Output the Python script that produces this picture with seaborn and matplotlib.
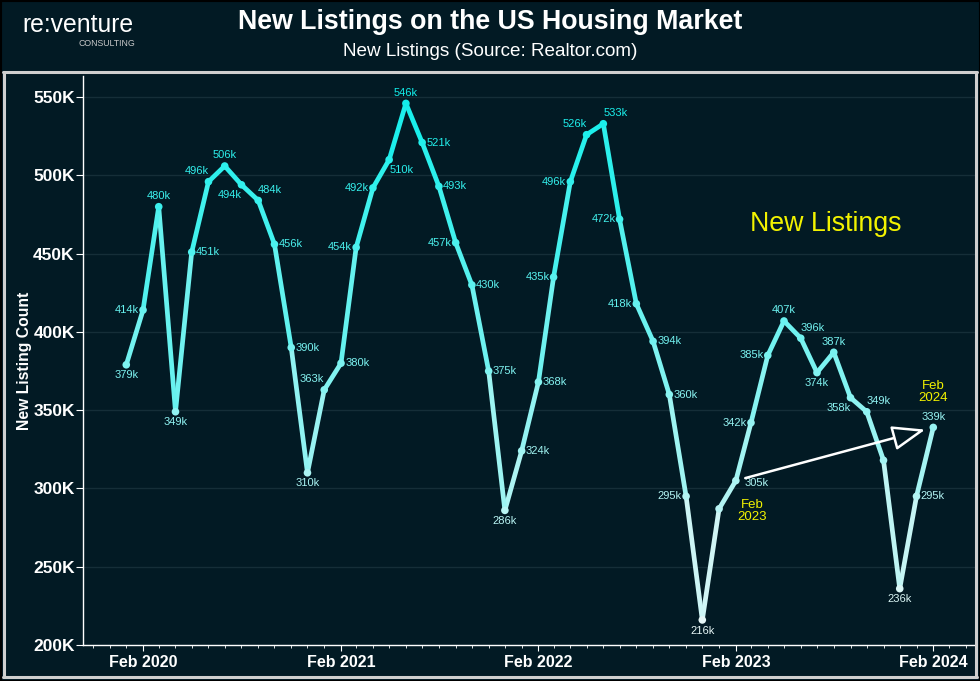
import matplotlib
matplotlib.use("Agg")
import matplotlib.pyplot as plt
import matplotlib.dates as mdates
from matplotlib.colors import LinearSegmentedColormap, Normalize
from matplotlib.ticker import FuncFormatter
from matplotlib.lines import Line2D
import seaborn as sns
import pandas as pd

# monthly new listings, Jan 2020 .. Feb 2024
months = pd.date_range("2020-01-01", "2024-02-01", freq="MS")
values = [
    379000, 414000, 480000, 349000, 451000, 496000, 506000, 494000, 484000, 456000, 390000, 310000,
    363000, 380000, 454000, 492000, 510000, 546000, 521000, 493000, 457000, 430000, 375000, 286000,
    324000, 368000, 435000, 496000, 526000, 533000, 472000, 418000, 394000, 360000, 295000, 216000,
    287000, 305000, 342000, 385000, 407000, 396000, 374000, 387000, 358000, 349000, 318000, 236000,
    295000, 339000,
]
# where each value label sits relative to its point ("" = no label)
label_pos = [
    "b", "l", "a", "b", "r", "al", "a", "bl", "ar", "r", "r", "b",
    "al", "r", "l", "l", "br", "a", "r", "r", "l", "r", "r", "b",
    "r", "r", "l", "l", "al", "ar", "l", "l", "r", "r", "l", "b",
    "", "rr", "l", "l", "a", "ar", "b", "a", "bl", "ar", "", "b",
    "r", "a",
]
y_ticks = [200000, 250000, 300000, 350000, 400000, 450000, 500000, 550000]

BG = "#021a24"
GRID = "#152e38"
cmap = LinearSegmentedColormap.from_list("nl", ["#e6f6f6", "#12efeb"])
norm = Normalize(min(values), max(values))

df = pd.DataFrame({"month": months, "value": values, "pos": label_pos})

rows = []
for i in range(len(df) - 1):
    lvl = (values[i] + values[i + 1]) / 2
    rows.append({"seg": i, "month": months[i], "value": values[i], "level": lvl})
    rows.append({"seg": i, "month": months[i + 1], "value": values[i + 1], "level": lvl})
seg_df = pd.DataFrame(rows)

sns.set_style("dark")
plt.rcParams["font.family"] = ["Liberation Sans", "DejaVu Sans"]

fig = plt.figure(figsize=(9.8, 6.81), dpi=100, facecolor=BG)
ax = fig.add_axes([83 / 980, 36 / 681, (976 - 83) / 980, (645 - 76) / 681])
ax.set_facecolor(BG)

sns.lineplot(data=seg_df, x="month", y="value", hue="level", units="seg",
             estimator=None, palette=cmap, hue_norm=norm, linewidth=3.4,
             legend=False, ax=ax, solid_capstyle="round")
sns.scatterplot(data=df, x="month", y="value", hue="value", palette=cmap,
                hue_norm=norm, s=30, edgecolor="none", legend=False, ax=ax, zorder=3)

offsets = {
    "a": (0, 4, "center", "bottom"),
    "b": (0, -4, "center", "top"),
    "l": (-3, 0, "right", "center"),
    "r": (3, 0, "left", "center"),
    "rr": (6, -2, "left", "center"),
    "al": (0, 4, "right", "bottom"),
    "ar": (0, 4, "left", "bottom"),
    "bl": (0, -4, "right", "top"),
    "br": (0, -4, "left", "top"),
}
for m, v, p in zip(df["month"], df["value"], df["pos"]):
    if not p:
        continue
    dx, dy, ha, va = offsets[p]
    ax.annotate(f"{v // 1000}k", xy=(m, v), xytext=(dx, dy), textcoords="offset points",
                ha=ha, va=va, fontsize=8, color=cmap(norm(v)), zorder=4)

# axes styling
ax.set_ylim(200000, 563500)
ax.set_xlim(pd.Timestamp("2019-10-13"), pd.Timestamp("2024-04-20"))
ax.set_yticks(y_ticks)
ax.yaxis.set_major_formatter(FuncFormatter(lambda v, _: f"{int(v / 1000)}K"))
ax.xaxis.set_major_locator(mdates.MonthLocator(bymonth=2))
ax.xaxis.set_minor_locator(mdates.MonthLocator())
ax.xaxis.set_major_formatter(mdates.DateFormatter("%b %Y"))
ax.grid(axis="y", color=GRID, linewidth=1)
ax.grid(axis="x", visible=False)
for s in ["top", "right"]:
    ax.spines[s].set_visible(False)
for s in ["left", "bottom"]:
    ax.spines[s].set_visible(True)
    ax.spines[s].set_color("white")
    ax.spines[s].set_linewidth(1)
ax.tick_params(axis="y", which="major", length=5, color="white", pad=1,
               labelcolor="white", labelsize=12.5, left=True)
ax.tick_params(axis="x", which="major", length=4, color="white", pad=3,
               labelcolor="white", labelsize=11.5, bottom=True)
ax.tick_params(axis="x", which="minor", length=2, color="white", bottom=True)
for lab in ax.get_yticklabels() + ax.get_xticklabels():
    lab.set_fontweight("bold")
ax.set_xlabel("")
ax.set_ylabel("New Listing Count", color="white", fontsize=11.3, fontweight="bold")
ax.yaxis.set_label_coords(-0.057, 0.5)

# annotations
ax.text(0.832, 0.74, "New Listings", transform=ax.transAxes, color="#f2f200",
        fontsize=19.3, ha="center", va="center")
ax.annotate("Feb\n2023", xy=(months[37], values[37]), xytext=(12, -13),
            textcoords="offset points", ha="center", va="top", color="#f2f200",
            fontsize=9.5, linespacing=1.0)
ax.annotate("Feb\n2024", xy=(months[49], values[49]), xytext=(0, 17),
            textcoords="offset points", ha="center", va="bottom", color="#f2f200",
            fontsize=9.5, linespacing=1.0)
ax.annotate("", xy=(months[49], values[49]), xytext=(months[37], values[37]),
            arrowprops=dict(arrowstyle="-|>,head_length=1.2,head_width=0.45",
                            mutation_scale=17, color="white", fc=BG, lw=1.8,
                            shrinkA=7, shrinkB=6), zorder=5)

# header
fig.text(0.5, 1 - 22 / 681, "New Listings on the US Housing Market", ha="center", va="center",
         color="white", fontsize=19.3, fontweight="bold")
fig.text(0.5, 1 - 51 / 681, "New Listings (Source: Realtor.com)", ha="center", va="center",
         color="white", fontsize=13.6)
fig.text(22 / 980, 1 - 25 / 681, "re:venture", ha="left", va="center", color="white",
         fontsize=17.8)
fig.text(135 / 980, 1 - 44 / 681, "CONSULTING", ha="right", va="center", color="#c8c8c8",
         fontsize=6.3)

# panel frame
gray = "#cfcfcf"
W, H = 980, 681
frame = [((3, 977), (72, 72)), ((4, 4), (72, 677)), ((976, 976), (72, 677)), ((3, 977), (677, 677))]
for xs, ys in frame:
    fig.add_artist(Line2D([x / W for x in xs], [1 - y / H for y in ys], color=gray, lw=2.2))
border = [((0, 980), (0.5, 0.5)), ((0.5, 0.5), (0, 681)), ((979.5, 979.5), (0, 681)), ((0, 980), (680.5, 680.5))]
for xs, ys in border:
    fig.add_artist(Line2D([x / W for x in xs], [1 - y / H for y in ys], color="black", lw=1.5))

fig.savefig("out.png", dpi=100, facecolor=BG)
